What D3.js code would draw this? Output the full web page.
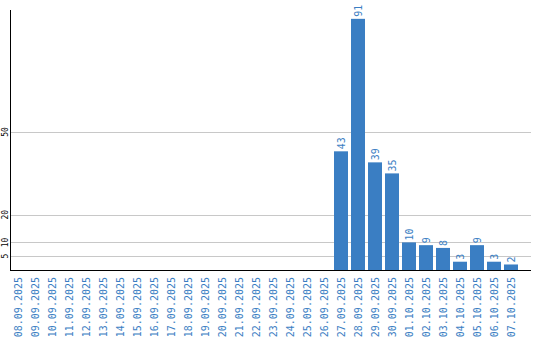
<!DOCTYPE html>
<html>
<head>
<meta charset="utf-8">
<script src="https://cdn.jsdelivr.net/npm/d3@7"></script>
<style>
  body { margin: 0; background: #fff; }
  text { font-family: "DejaVu Sans Mono", monospace; }
</style>
</head>
<body>
<div id="chart"></div>
<script>
// data
var days = ["08.09.2025", "09.09.2025", "10.09.2025", "11.09.2025", "12.09.2025",
  "13.09.2025", "14.09.2025", "15.09.2025", "16.09.2025", "17.09.2025",
  "18.09.2025", "19.09.2025", "20.09.2025", "21.09.2025", "22.09.2025",
  "23.09.2025", "24.09.2025", "25.09.2025", "26.09.2025", "27.09.2025",
  "28.09.2025", "29.09.2025", "30.09.2025", "01.10.2025", "02.10.2025",
  "03.10.2025", "04.10.2025", "05.10.2025", "06.10.2025", "07.10.2025"];
var counts = [0, 0, 0, 0, 0, 0, 0, 0, 0, 0, 0, 0, 0, 0, 0, 0, 0, 0, 0,
  43, 91, 39, 35, 10, 9, 8, 3, 9, 3, 2];
var yTicks = [5, 10, 20, 50];

var svgWidth = 540;
var svgHeight = 340;
var blue = "#3a7ec3";

var svg = d3.select("#chart")
  .append("svg")
  .attr("width", svgWidth)
  .attr("height", svgHeight);

var x = d3.scaleBand()
  .domain(days)
  .range([9, 519])
  .paddingInner(0.18)
  .paddingOuter(0.09);

var y = d3.scaleLinear()
  .domain([0, 50])
  .range([270, 132]);

// grid lines
svg.append("g")
  .selectAll("line")
  .data(yTicks)
  .enter()
  .append("line")
  .attr("x1", 11)
  .attr("x2", 531)
  .attr("y1", d => Math.round(y(d)) + 0.5)
  .attr("y2", d => Math.round(y(d)) + 0.5)
  .attr("stroke", "#c8c8c8");

// y tick labels
svg.append("g")
  .selectAll("text")
  .data(yTicks)
  .enter()
  .append("text")
  .attr("transform", d => `translate(8, ${y(d)}) rotate(-90)`)
  .attr("text-anchor", "middle")
  .attr("font-size", "8px")
  .attr("fill", "#000")
  .text(d => d);

// bars
var bars = days.map((d, i) => ({ day: d, value: counts[i] }));

svg.append("g")
  .selectAll("rect")
  .data(bars.filter(d => d.value > 0))
  .enter()
  .append("rect")
  .attr("x", d => Math.round(x(d.day)))
  .attr("y", d => y(d.value))
  .attr("width", 14)
  .attr("height", d => y(0) - y(d.value))
  .attr("fill", blue);

// value labels
svg.append("g")
  .selectAll("text")
  .data(bars.filter(d => d.value > 0))
  .enter()
  .append("text")
  .attr("transform", d => `translate(${Math.round(x(d.day)) + 11}, ${y(d.value) - 2}) rotate(-90)`)
  .attr("font-size", "10px")
  .attr("fill", blue)
  .text(d => d.value);

// axes lines
svg.append("line")
  .attr("x1", 10.5).attr("x2", 10.5)
  .attr("y1", 10).attr("y2", 270)
  .attr("stroke", "#000");

svg.append("line")
  .attr("x1", 10).attr("x2", 531)
  .attr("y1", 270.5).attr("y2", 270.5)
  .attr("stroke", "#000");

// x labels
svg.append("g")
  .selectAll("text")
  .data(days)
  .enter()
  .append("text")
  .attr("transform", d => `translate(${x(d) + x.bandwidth() / 2 + 4}, 277) rotate(-90)`)
  .attr("text-anchor", "end")
  .attr("font-size", "10px")
  .attr("fill", blue)
  .text(d => d);
</script>
</body>
</html>
